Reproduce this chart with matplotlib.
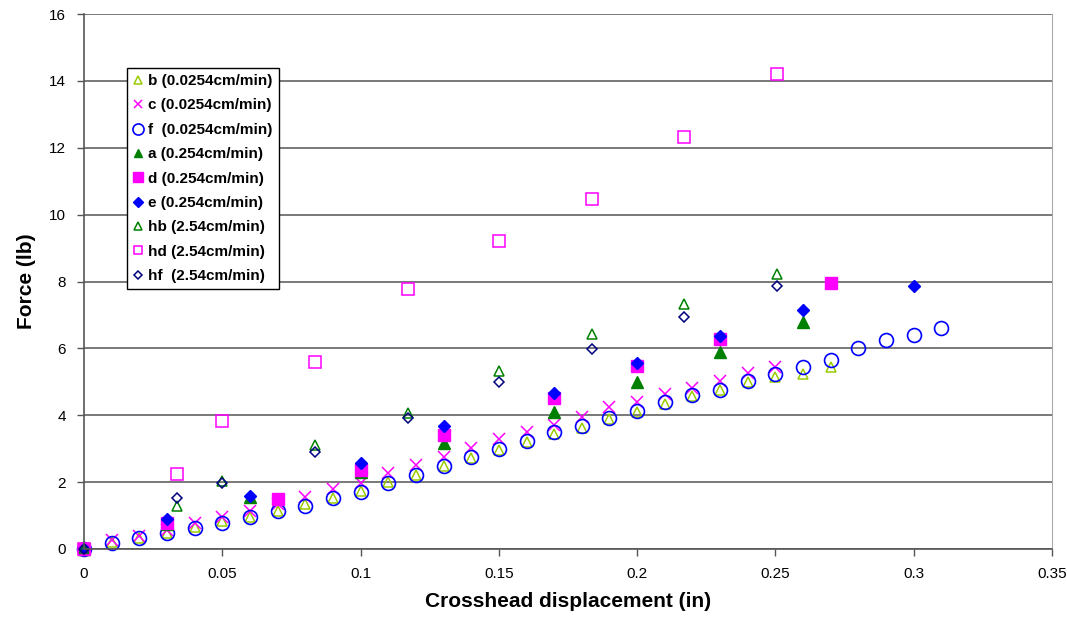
import matplotlib
matplotlib.use("Agg")
import matplotlib.pyplot as plt

plt.rcParams["font.family"] = ["Liberation Sans", "DejaVu Sans"]

# --- data ---
x_b = [0, 0.01, 0.02, 0.03, 0.04, 0.05, 0.06, 0.07, 0.08, 0.09, 0.10, 0.11, 0.12, 0.13,
       0.14, 0.15, 0.16, 0.17, 0.18, 0.19, 0.20, 0.21, 0.22, 0.23, 0.24, 0.25, 0.26, 0.27]
y_b = [0, 0.20, 0.33, 0.47, 0.67, 0.85, 0.97, 1.15, 1.35, 1.52, 1.72, 2.00, 2.20, 2.47,
       2.72, 2.95, 3.20, 3.45, 3.63, 3.90, 4.10, 4.35, 4.58, 4.75, 4.98, 5.15, 5.23, 5.45]

x_c = [0, 0.01, 0.02, 0.03, 0.04, 0.05, 0.06, 0.07, 0.08, 0.09, 0.10, 0.11, 0.12, 0.13,
       0.14, 0.15, 0.16, 0.17, 0.18, 0.19, 0.20, 0.21, 0.22, 0.23, 0.24, 0.25]
y_c = [0, 0.28, 0.40, 0.58, 0.77, 0.96, 1.14, 1.35, 1.55, 1.78, 1.97, 2.27, 2.51, 2.75,
       3.02, 3.29, 3.50, 3.71, 3.94, 4.25, 4.39, 4.63, 4.81, 5.02, 5.26, 5.44]

x_f = [0, 0.01, 0.02, 0.03, 0.04, 0.05, 0.06, 0.07, 0.08, 0.09, 0.10, 0.11, 0.12, 0.13,
       0.14, 0.15, 0.16, 0.17, 0.18, 0.19, 0.20, 0.21, 0.22, 0.23, 0.24, 0.25, 0.26, 0.27,
       0.28, 0.29, 0.30, 0.31]
y_f = [0, 0.18, 0.33, 0.47, 0.62, 0.78, 0.95, 1.13, 1.29, 1.52, 1.70, 1.97, 2.21, 2.48,
       2.75, 2.99, 3.23, 3.50, 3.68, 3.92, 4.13, 4.39, 4.60, 4.75, 5.02, 5.23, 5.44, 5.65,
       6.01, 6.25, 6.40, 6.61]

x_a = [0, 0.03, 0.06, 0.10, 0.13, 0.17, 0.20, 0.23, 0.26]
y_a = [0, 0.75, 1.55, 2.30, 3.17, 4.10, 4.99, 5.89, 6.79]

x_d = [0, 0.03, 0.07, 0.10, 0.13, 0.17, 0.20, 0.23, 0.27]
y_d = [0, 0.78, 1.50, 2.36, 3.41, 4.52, 5.47, 6.28, 7.95]

x_e = [0, 0.03, 0.06, 0.10, 0.13, 0.17, 0.20, 0.23, 0.26, 0.30]
y_e = [0, 0.90, 1.60, 2.57, 3.68, 4.66, 5.56, 6.37, 7.15, 7.86]

x_h = [0, 0.0335, 0.05, 0.0835, 0.117, 0.150, 0.1835, 0.217, 0.2505]
y_hb = [0, 1.30, 2.03, 3.10, 4.07, 5.32, 6.43, 7.33, 8.22]
y_hd = [0, 2.23, 3.82, 5.59, 7.77, 9.20, 10.47, 12.32, 14.20]
y_hf = [0, 1.53, 1.98, 2.90, 3.92, 4.99, 5.98, 6.95, 7.86]

fig = plt.figure(figsize=(10.67, 6.21), dpi=100)
ax = fig.add_axes([84 / 1067, 1 - 549 / 621, (1052 - 84) / 1067, (549 - 14) / 621])

ax.plot(x_b, y_b, ls="none", marker="^", ms=7, mfc="none", mec="#99cc00", mew=1.1,
        label="b (0.0254cm/min)")
ax.plot(x_c, y_c, ls="none", marker="x", ms=8, mec="#ff00ff", mew=1.1,
        label="c (0.0254cm/min)")
ax.plot(x_f, y_f, ls="none", marker="o", ms=10, mfc="none", mec="#0000ff", mew=1.2,
        label="f  (0.0254cm/min)")
ax.plot(x_a, y_a, ls="none", marker="^", ms=8, color="#008000",
        label="a (0.254cm/min)")
ax.plot(x_d, y_d, ls="none", marker="s", ms=9, color="#ff00ff",
        label="d (0.254cm/min)")
ax.plot(x_e, y_e, ls="none", marker="D", ms=6.5, color="#0000ff",
        label="e (0.254cm/min)")
ax.plot(x_h, y_hb, ls="none", marker="^", ms=7, mfc="none", mec="#008000", mew=1.1,
        label="hb (2.54cm/min)")
ax.plot(x_h, y_hd, ls="none", marker="s", ms=8, mfc="none", mec="#ff00ff", mew=1.1,
        label="hd (2.54cm/min)")
ax.plot(x_h, y_hf, ls="none", marker="D", ms=5.5, mfc="none", mec="#000080", mew=1.1,
        label="hf  (2.54cm/min)")

ax.set_xlim(0, 0.35)
ax.set_ylim(0, 16)
ax.set_xticks([0, 0.05, 0.1, 0.15, 0.2, 0.25, 0.3, 0.35])
ax.set_xticklabels(["0", "0.05", "0.1", "0.15", "0.2", "0.25", "0.3", "0.35"])
ax.set_yticks(range(0, 17, 2))
ax.tick_params(direction="out", length=5, width=1, color="#555555",
               labelsize=11, pad=8)
ax.grid(axis="y", color="#555555", linewidth=1.1)
ax.set_axisbelow(True)

ax.spines["top"].set_visible(False)
ax.spines["right"].set_color("#aaaaaa")
ax.spines["left"].set_color("#555555")
ax.spines["bottom"].set_color("#555555")
ax.spines["left"].set_linewidth(1.2)
ax.spines["bottom"].set_linewidth(1.2)
for m in ax.lines:
    m.set_clip_on(False)

ax.set_xlabel("Crosshead displacement (in)", fontsize=15, fontweight="bold", labelpad=8)
ax.set_ylabel("Force (lb)", fontsize=15, fontweight="bold", labelpad=9)

leg = ax.legend(loc="upper left", bbox_to_anchor=(43 / 968, 1 - 54 / 535),
                prop={"weight": "bold", "size": 11}, frameon=True, fancybox=False,
                edgecolor="black", framealpha=1, handlelength=0.6, handletextpad=0.4,
                borderpad=0.4, labelspacing=0.68, borderaxespad=0, markerscale=0.8)
leg.get_frame().set_linewidth(1.0)

fig.savefig("out.png", dpi=100)
